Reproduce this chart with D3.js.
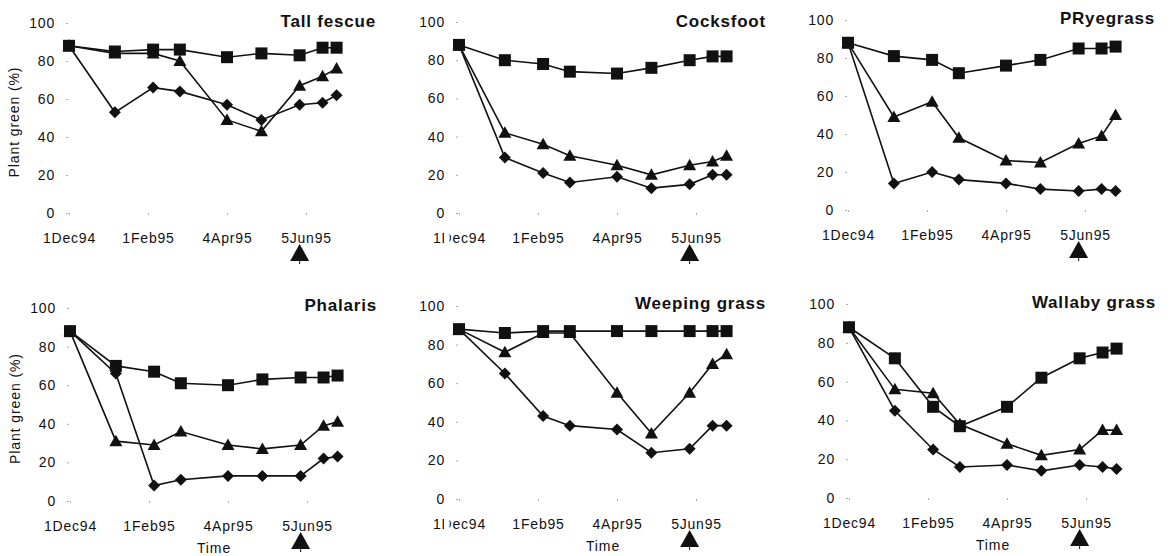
<!DOCTYPE html>
<html lang="en">
<head>
<meta charset="utf-8">
<title>Plant green (%) over time</title>
<script src="https://cdn.jsdelivr.net/npm/d3@7"></script>
<style>
  body { margin: 0; background: #fff; }
  svg { display: block; font-family: "Liberation Sans", Arial, sans-serif; }
  .tick text { font-size: 14px; letter-spacing: 0.8px; fill: #111; }
  .tick line { stroke: #aaa; }
  .domain { display: none; }
  .title { font-size: 17px; font-weight: bold; letter-spacing: 0.8px; fill: #111; }
  .lab { font-size: 14px; letter-spacing: 0.9px; fill: #111; }
</style>
</head>
<body>
<script>

// sampling dates and axis ticks
var dates = ["1994-12-01", "1995-01-06", "1995-02-05", "1995-02-26", "1995-04-04",
             "1995-05-01", "1995-05-31", "1995-06-18", "1995-06-29"];
var tickDates = ["1994-12-01", "1995-02-01", "1995-04-04", "1995-06-05"];
var yTicks = [0, 20, 40, 60, 80, 100];
var arrowDate = "1995-05-31";

var species = ["Tall fescue", "Cocksfoot", "PRyegrass", "Phalaris", "Weeping grass", "Wallaby grass"];

// one row per species, in the order above
var squareVals = [
  [88, 85, 86, 86, 82, 84, 83, 87, 87],
  [88, 80, 78, 74, 73, 76, 80, 82, 82],
  [88, 81, 79, 72, 76, 79, 85, 85, 86],
  [88, 70, 67, 61, 60, 63, 64, 64, 65],
  [88, 86, 87, 87, 87, 87, 87, 87, 87],
  [88, 72, 47, 37, 47, 62, 72, 75, 77]
];
var triangleVals = [
  [88, 84, 84, 80, 49, 43, 67, 72, 76],
  [88, 42, 36, 30, 25, 20, 25, 27, 30],
  [88, 49, 57, 38, 26, 25, 35, 39, 50],
  [88, 31, 29, 36, 29, 27, 29, 39, 41],
  [88, 76, 86, 86, 55, 34, 55, 70, 75],
  [88, 56, 54, 38, 28, 22, 25, 35, 35]
];
var diamondVals = [
  [88, 53, 66, 64, 57, 49, 57, 58, 62],
  [88, 29, 21, 16, 19, 13, 15, 20, 20],
  [88, 14, 20, 16, 14, 11, 10, 11, 10],
  [88, 66, 8, 11, 13, 13, 13, 22, 23],
  [88, 65, 43, 38, 36, 24, 26, 38, 38],
  [88, 45, 25, 16, 17, 14, 17, 16, 15]
];

var w = 1175, h = 556;
var parse = d3.timeParse("%Y-%m-%d");

// panel placement: x of 1Dec94, y of 0 and of 100
var px = [69, 459, 848, 70, 459, 849];
var py0 = [213, 213, 210, 501, 499, 498];
var py100 = [23, 22, 20, 308, 306, 304];

var svg = d3.select("body").append("svg")
  .attr("width", w)
  .attr("height", h);

var shapes = {
  square: "M-6,-6H6V6H-6Z",
  triangle: "M0,-6.5L6.5,5L-6.5,5Z",
  diamond: "M0,-6L6,0L0,6L-6,0Z"
};

species.forEach(function(name, i) {
  var g = svg.append("g");
  var bottomRow = i >= 3;

  var x = d3.scaleTime()
    .domain([parse("1994-12-01"), parse("1995-06-05")])
    .range([px[i], px[i] + 237]);
  var y = d3.scaleLinear()
    .domain([0, 100])
    .range([py0[i], py100[i]]);

  g.append("g")
    .attr("transform", "translate(0," + py0[i] + ")")
    .call(d3.axisBottom(x)
      .tickValues(tickDates.map(parse))
      .tickFormat(d3.timeFormat("%-d%b%y"))
      .tickSize(2)
      .tickPadding(18));

  g.append("g")
    .attr("transform", "translate(" + (px[i] - 1) + ",0)")
    .call(d3.axisLeft(y)
      .tickValues(yTicks)
      .tickSize(2)
      .tickPadding(11));

  var series = [
    { vals: diamondVals[i], shape: shapes.diamond },
    { vals: triangleVals[i], shape: shapes.triangle },
    { vals: squareVals[i], shape: shapes.square }
  ];

  var line = d3.line()
    .x(function(d, k) { return x(parse(dates[k])); })
    .y(function(d) { return y(d); });

  series.forEach(function(s) {
    g.append("path")
      .attr("d", line(s.vals))
      .attr("fill", "none")
      .attr("stroke", "#111")
      .attr("stroke-width", 1.6);
  });
  series.forEach(function(s) {
    g.selectAll(null)
      .data(s.vals)
      .enter()
      .append("path")
      .attr("d", s.shape)
      .attr("transform", function(d, k) {
        return "translate(" + x(parse(dates[k])) + "," + y(d) + ")";
      })
      .attr("fill", "#111");
  });

  // title
  g.append("text")
    .attr("class", "title")
    .attr("x", px[i] + 307)
    .attr("y", bottomRow ? py0[i] - 190 : py0[i] - 186)
    .attr("text-anchor", "end")
    .text(name);

  // arrow under 5Jun95
  var ax = x(parse(arrowDate));
  var at = py0[i] + 31;
  g.append("path")
    .attr("d", "M" + ax + "," + at + "L" + (ax + 9.5) + "," + (at + 17) + "L" + (ax - 9.5) + "," + (at + 17) + "Z")
    .attr("fill", "#111");
  g.append("line")
    .attr("x1", ax).attr("x2", ax)
    .attr("y1", at + 17).attr("y2", at + 20)
    .attr("stroke", "#111");

  if (i === 0 || i === 3) {
    g.append("text")
      .attr("class", "lab")
      .attr("text-anchor", "middle")
      .attr("transform", "translate(" + (px[i] - 50) + "," + ((py0[i] + py100[i]) / 2 + 4) + ") rotate(-90)")
      .text("Plant green (%)");
  }
  if (bottomRow) {
    g.append("text")
      .attr("class", "lab")
      .attr("text-anchor", "middle")
      .attr("x", px[i] + 144)
      .attr("y", py0[i] + 52)
      .text("Time");
  }
});

// scan gap that clips the labels of the middle column
svg.append("rect")
  .attr("x", 444)
  .attr("y", 0)
  .attr("width", 5.5)
  .attr("height", h)
  .attr("fill", "#fff");

</script>
</body>
</html>
